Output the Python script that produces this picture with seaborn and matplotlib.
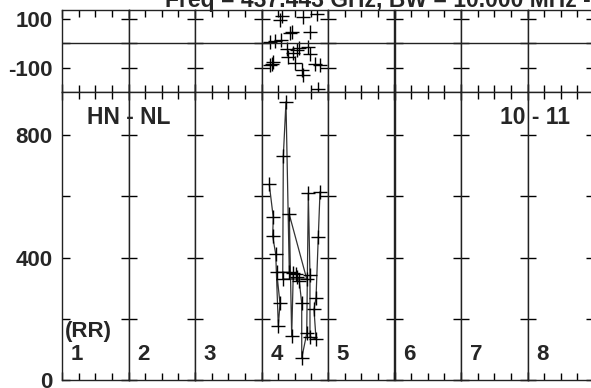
#%%
import numpy as np
import pandas as pd
import matplotlib
matplotlib.use('Agg')
import matplotlib.pyplot as plt
import seaborn as sns

#%%
# fase (painel de cima) - so a coluna 4 tem pontos
fase_x = [3.304, 3.278, 3.629, 3.830, 3.429, 3.454, 3.729, 3.128, 3.203, 3.293,
          3.379, 3.529, 3.564, 3.704, 3.729, 3.403, 3.504, 3.605, 3.629, 3.805,
          3.880, 3.153, 3.177, 3.135, 3.854, 3.474]
fase_y = [112, 96, 109, 120, 42, 48, 46, 7, 10, 14,
          -24, -27, -20, -13, -43, -55, -78, -107, -128, -82,
          -87, -82, -76, -88, -183, -39]

# amplitude (painel de baixo), na ordem em que a linha passa
amp_x = [3.117, 3.177, 3.168, 3.214, 3.253, 3.278, 3.229, 3.418, 3.368, 3.328,
         3.319, 3.680, 3.418, 3.454, 3.478, 3.519, 3.538, 3.568, 3.605, 3.605,
         3.680, 3.704, 3.729, 3.729, 3.820, 3.789, 3.820, 3.854, 3.880]
amp_y = [639, 531, 470, 411, 176, 250, 352, 352, 909, 731,
         330, 330, 541, 144, 350, 346, 337, 323, 250, 71,
         152, 610, 343, 141, 134, 231, 269, 468, 615]

colunas = ['1', '2', '3', '4', '5', '6', '7', '8']
fase_ticks = [-100, 0, 100]
fase_labels = ['-100', '', '100']
amp_ticks = [0, 200, 400, 600, 800]
amp_labels = ['0', '', '400', '', '800']

titulo = 'Freq = 437.443 GHz, BW = 10.000 MHz - Calibrated'

#%%
sns.set_style('ticks')
plt.rcParams['font.family'] = ['Liberation Sans', 'DejaVu Sans']
plt.rcParams['font.weight'] = 'bold'

fase = pd.DataFrame({'x': fase_x, 'y': fase_y})
amp = pd.DataFrame({'x': amp_x, 'y': amp_y})

W, H = 591, 388
fig = plt.figure(figsize=(W / 100, H / 100), dpi=100)
x0 = 62 / W
cw = 66.5 / W
fs = 16

for i in range(8):
    ax_t = fig.add_axes([x0 + i * cw, 1 - 92 / H, cw, 82 / H])
    ax_b = fig.add_axes([x0 + i * cw, 1 - 380 / H, cw, 288 / H])

    sub_f = fase[(fase['x'] >= i) & (fase['x'] < i + 1)]
    sub_a = amp[(amp['x'] >= i) & (amp['x'] < i + 1)]
    if len(sub_f):
        sns.scatterplot(data=sub_f, x='x', y='y', marker='+', color='black',
                        s=90, linewidth=1, ax=ax_t, legend=False)
    if len(sub_a):
        sns.lineplot(data=sub_a, x='x', y='y', sort=False, estimator=None,
                     color='#333333', linewidth=0.9, marker='+', markersize=10,
                     markeredgecolor='black', markeredgewidth=1, ax=ax_b)

    ax_t.axhline(0, color='#222222', lw=1)
    ax_t.set_ylim(-197, 136)
    ax_b.set_ylim(0, 941)
    ax_t.set_yticks(fase_ticks)
    ax_b.set_yticks(amp_ticks)

    for ax in (ax_t, ax_b):
        ax.set_xlim(i, i + 1)
        ax.set_xticks([i, i + 1])
        ax.set_xticks([i + 0.25, i + 0.5, i + 0.75], minor=True)
        ax.set_xlabel('')
        ax.set_ylabel('')
        ax.tick_params(which='both', direction='in', top=True, right=True,
                       labelbottom=False, color='black', width=1)
        ax.tick_params(which='major', length=6, pad=7)
        ax.tick_params(which='minor', length=5)
        for s in ax.spines.values():
            s.set_color('#222222')
            s.set_linewidth(1)
        if i == 0:
            ax.tick_params(labelleft=True, labelsize=fs)
        else:
            ax.tick_params(labelleft=False)

    if i == 0:
        ax_t.set_yticklabels(fase_labels, fontweight='bold')
        ax_b.set_yticklabels(amp_labels, fontweight='bold')

# textos
fig.text(165 / W, 1 - 7 / H, titulo, fontsize=16.5, fontweight='bold',
         ha='left', va='baseline')
fig.text(128.7 / W, 1 - 117 / H, 'HN - NL', fontsize=16.5, fontweight='bold',
         ha='center', va='center')
fig.text(535 / W, 1 - 117 / H, '10 - 11', fontsize=16.5, fontweight='bold',
         ha='center', va='center')
fig.text(88.5 / W, 1 - 332 / H, '(RR)', fontsize=fs, fontweight='bold',
         ha='center', va='center')
for i, c in enumerate(colunas):
    fig.text((62 + 66.5 * i + 15) / W, 1 - 354 / H, c, fontsize=fs,
             fontweight='bold', ha='center', va='center')

fig.savefig('out.png', dpi=100)
